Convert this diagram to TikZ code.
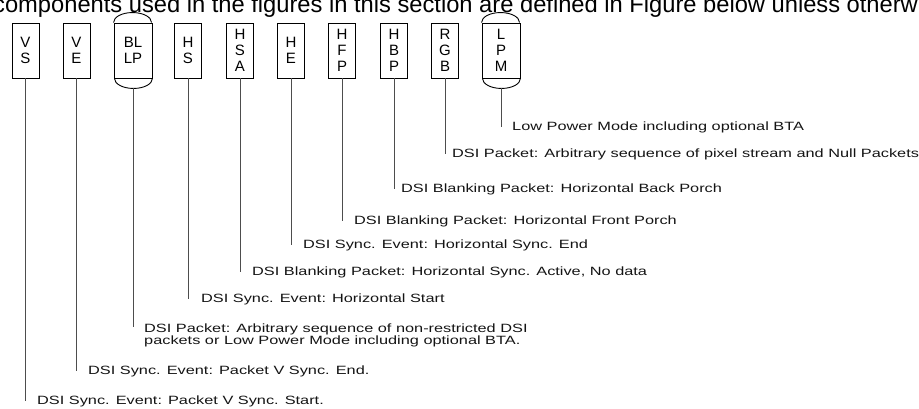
\documentclass[tikz,border=0pt]{standalone}
\usepackage{fontspec}
\setmainfont{Liberation Sans}
\newfontfamily\lblfont[FakeStretch=1.36]{Liberation Sans}
\usetikzlibrary{calc}
\definecolor{clrL}{RGB}{77,77,77}
\definecolor{clrT}{RGB}{20,20,20}

\begin{document}
\begin{tikzpicture}[x=1pt,y=-1pt,
   sig/.style={rectangle,draw=black,line width=0.9pt,minimum width=27pt,
     minimum height=55pt,inner sep=0pt,align=center,
     font=\fontsize{15}{16}\selectfont},
   lp/.style={sig,minimum width=38pt},
   capline/.style={draw=black,line width=0.9pt},
   note/.style={anchor=west,inner sep=0pt,align=left,text=clrT,
     font=\lblfont\fontsize{12}{12}\selectfont},
   lead/.style={draw=clrL,line width=1pt}]

  \useasboundingbox (0,0) rectangle (919,409);
  \begin{scope}
    \clip (0,0) rectangle (919,409);
    \node[anchor=base west,inner sep=0pt,font=\fontsize{23.7}{28}\selectfont] (ttl) at (-7,12.5)
      {components used in the figures in this section are defined in Figure below unless otherwise};
  \end{scope}

  % signal boxes
  \node[sig] (vs)   at (25.5,50.5) {V\\S};
  \node[sig] (ve)   at (76.5,50.5) {V\\E};
  \node[lp]  (bllp) at (133,50.5)  {BL\\LP};
  \node[sig] (hs)   at (188,50.5)  {H\\S};
  \node[sig] (hsa)  at (240,50.5)  {H\\S\\A};
  \node[sig] (he)   at (291,50.5)  {H\\E};
  \node[sig] (hfp)  at (342,50.5)  {H\\F\\P};
  \node[sig] (hbp)  at (394,50.5)  {H\\B\\P};
  \node[sig] (rgb)  at (445,50.5)  {R\\G\\B};
  \node[lp]  (lpm)  at (501,50.5)  {L\\P\\M};

  \foreach \n in {bllp,lpm}{
    \draw[capline] (\n.north west) arc[start angle=180,end angle=360,x radius=19,y radius=10];
    \draw[capline] (\n.south east) arc[start angle=0,end angle=180,x radius=19,y radius=10];
  }

  % descriptions
  \node[note] (llpm)  at (512,127) {Low Power Mode including optional BTA};
  \node[note] (lrgb)  at (452,154) {DSI Packet: Arbitrary sequence of pixel stream and Null Packets};
  \node[note] (lhbp)  at (401,189) {DSI Blanking Packet: Horizontal Back Porch};
  \node[note] (lhfp)  at (354,221) {DSI Blanking Packet: Horizontal Front Porch};
  \node[note] (lhe)   at (303,245) {DSI Sync. Event: Horizontal Sync. End};
  \node[note] (lhsa)  at (252,272) {DSI Blanking Packet: Horizontal Sync. Active, No data};
  \node[note] (lhs)   at (201,299) {DSI Sync. Event: Horizontal Start};
  \node[note] (lbllp) at (144,335) {DSI Packet: Arbitrary sequence of non-restricted DSI\\
    packets or Low Power Mode including optional BTA.};
  \node[note] (lve)   at (88,371)  {DSI Sync. Event: Packet V Sync. End.};
  \node[note] (lvs)   at (37,401)  {DSI Sync. Event: Packet V Sync. Start.};

  \foreach \n in {vs,ve,hs,hsa,he,hfp,hbp,rgb}
    \draw[lead] (\n.south) -- (\n.south |- l\n.west);
  \draw[lead] ([yshift=-10pt]lpm.south) -- (lpm.south |- llpm.west);
  \draw[lead] ([yshift=-10pt]bllp.south) -- ($(bllp.south |- lbllp.north)+(0,4)$);
\end{tikzpicture}
\end{document}
